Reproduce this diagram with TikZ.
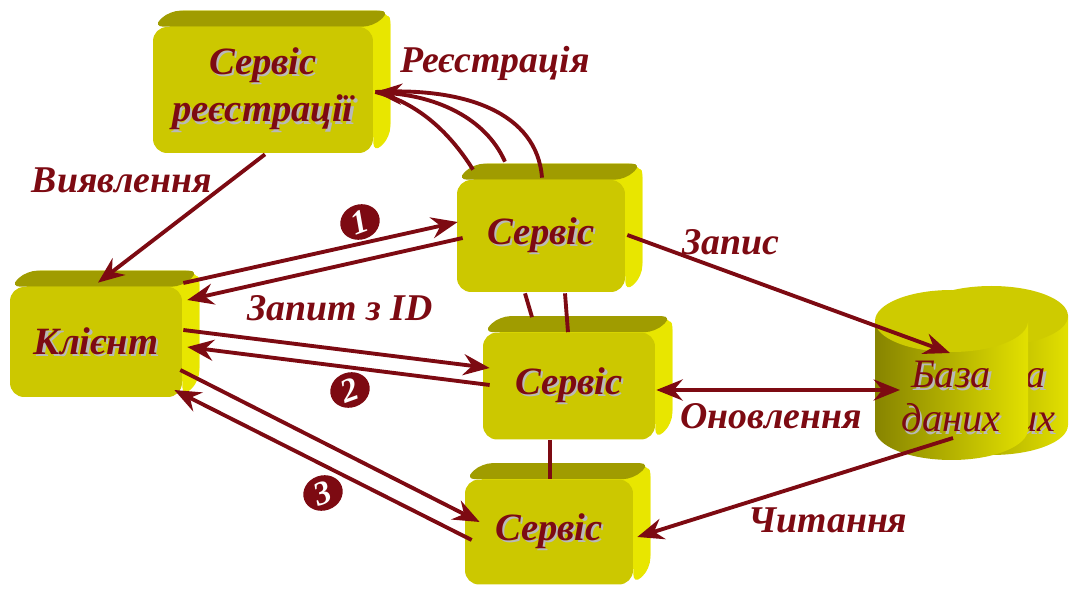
\documentclass[tikz,border=0pt]{standalone}
\usepackage{fontspec}
\setmainfont{Liberation Serif}
\usepackage{xcolor}
\usepackage{tikz}
\usetikzlibrary{shapes.geometric, arrows.meta, calc, backgrounds}

\definecolor{txtred}{RGB}{125,10,18}
\definecolor{facecol}{RGB}{204,200,0}
\definecolor{topcol}{RGB}{160,156,0}
\definecolor{sidecol}{RGB}{232,230,0}
\definecolor{cylL}{RGB}{135,132,0}
\definecolor{cylM}{RGB}{196,194,0}
\definecolor{cylR}{RGB}{226,224,0}
\definecolor{cylT}{RGB}{206,203,0}

\newcommand\boxfont{\fontsize{22}{27}\selectfont\bfseries\itshape}
\newcommand\lblfont{\fontsize{21.5}{24}\selectfont\bfseries\itshape}
\newcommand\numfont{\fontsize{19}{20}\selectfont\bfseries\itshape}
\newcommand\dbfont{\fontsize{23}{25}\selectfont\itshape}
\newcommand\txtshadow[1]{\makebox[0pt][l]{\kern1.3pt\raisebox{-1.3pt}{\color{gray!55}#1}}#1}

\begin{document}
\begin{tikzpicture}[x=0.02cm, y=-0.02cm]
    \tikzstyle{cube} = [rectangle, rounded corners=8pt, fill=facecol, text=txtred, font=\boxfont, inner sep=0pt, align=center]
    \tikzstyle{lbl} = [text=txtred, font=\lblfont]
    \tikzstyle{num} = [ellipse, fill=txtred, text=white, minimum width=0.8cm, minimum height=0.7cm, inner sep=0pt, font=\numfont]
    \tikzstyle{link} = [draw=txtred, line width=2.2pt]
    \tikzstyle{flow} = [link, -{Stealth[length=15pt,width=12pt,inset=5pt]}]
    \tikzstyle{flows} = [link, {Stealth[length=15pt,width=12pt,inset=5pt]}-{Stealth[length=15pt,width=12pt,inset=5pt]}]

    \useasboundingbox (0,0) rectangle (1073,591);

    % Components
    \node (reg) [cube, minimum width=4.4cm, minimum height=2.52cm] at (263,90) {\txtshadow{Сервіс}\\\txtshadow{реєстрації}};
    \node (srvA) [cube, minimum width=3.36cm, minimum height=2.24cm] at (541,236) {\txtshadow{Сервіс}};
    \node (srvB) [cube, minimum width=3.44cm, minimum height=2.14cm] at (569,386) {\txtshadow{Сервіс}};
    \node (srvC) [cube, minimum width=3.36cm, minimum height=2.1cm] at (549,532) {\txtshadow{Сервіс}};
    \node (cli) [cube, minimum width=3.44cm, minimum height=2.2cm] at (96,342) {\txtshadow{Клієнт}};

    % 3D sides
    \begin{scope}[on background layer]
        \foreach \b in {reg,srvA,srvB,srvC,cli} {
            \fill[sidecol, rounded corners=8pt] ($(\b.south west)+(17,-16)$) rectangle ($(\b.north east)+(17,-16)$);
            \fill[sidecol, rounded corners=6pt] (\b.north east) -- ($(\b.north east)+(17,-16)$) -- ($(\b.south east)+(17,-16)$) -- (\b.south east) -- cycle;
            \fill[topcol, rounded corners=6pt] (\b.north west) -- ($(\b.north west)+(17,-16)$) -- ($(\b.north east)+(17,-16)$) -- (\b.north east) -- cycle;
        }
    \end{scope}

    % Storage
    \shade[left color=cylL, middle color=cylM, right color=cylR] (991.5,425) ellipse (76.5 and 30);
    \shade[left color=cylL, middle color=cylM, right color=cylR] (915,316) rectangle (1068,425);
    \fill[cylT] (991.5,316) ellipse (76.5 and 30);
    \node (dbback) [text=txtred, font=\dbfont, align=center] at (1006,398) {\txtshadow{База}\\\txtshadow{даних}};
    \shade[left color=cylL, middle color=cylM, right color=cylR] (951.5,429) ellipse (76.5 and 31);
    \shade[left color=cylL, middle color=cylM, right color=cylR] (875,321) rectangle (1028,429);
    \fill[cylT] (951.5,321) ellipse (76.5 and 31);
    \node (db) [text=txtred, font=\dbfont, align=center] at (951,398) {\txtshadow{База}\\\txtshadow{даних}};

    % Labels
    \node (lreg) [lbl] at (495,63) {Реєстрація};
    \node (ldisc) [lbl] at (122,180) {Виявлення};
    \node (lreq) [lbl] at (340,308) {Запит з ID};
    \node (lwrite) [lbl] at (731,242) {Запис};
    \node (lupd) [lbl] at (771,416) {Оновлення};
    \node (lread) [lbl] at (828,520) {Читання};
    \node (n1) [num, rotate=20] at (360,222) {1};
    \node (n2) [num, rotate=20] at (350,390) {2};
    \node (n3) [num, rotate=20] at (323,493) {3};

    % Connections
    \draw [flow] ($(reg.south)+(2,1)$) -- ($(cli.north)+(2,-4)$);
    \draw [link] ($(srvA.north)+(-68,-10)$) .. controls +(-25,-40) and +(40,10) .. ($(reg.east)+(2,2)$);
    \draw [flow] ($(srvA.north)+(-36,-18)$) .. controls +(-20,-45) and +(60,5) .. ($(reg.east)+(2,2)$);
    \draw [link] ($(srvA.north)+(1,-2)$) .. controls +(-5,-65) and +(90,-5) .. ($(reg.east)+(2,2)$);

    \draw [flow] ($(cli.east)+(1,-59)$) -- ($(srvA.west)+(1,-14)$);
    \draw [flow] ($(srvA.west)+(6,2)$) -- ($(cli.east)+(5,-42)$);
    \draw [flow] ($(cli.east)+(1,-12)$) -- ($(srvB.west)+(7,-18)$);
    \draw [flow] ($(srvB.west)+(7,-1)$) -- ($(cli.east)+(5,5)$);
    \draw [flow] ($(cli.east)+(-2,28)$) -- ($(srvC.west)+(15,-10)$);
    \draw [flow] ($(srvC.west)+(7,8)$) -- ($(cli.east)+(-8,48)$);

    \draw [link] ($(srvA.south)+(-16,1)$) -- ($(srvB.north)+(-37,-15)$);
    \draw [link] ($(srvA.south)+(24,1)$) -- ($(srvB.north)+(-1,0)$);
    \draw [link] ($(srvB.south)+(-19,0)$) -- ($(srvC.north)+(1,0)$);

    \draw [flow] ($(srvA.east)+(2,-1)$) -- ($(db.center)+(-1,-45)$);
    \draw [flows] ($(srvB.east)+(1,4)$) -- ($(db.center)+(-51,-8)$);
    \draw [flow] ($(db.center)+(2,40)$) -- ($(srvC.east)+(4,5)$);
\end{tikzpicture}
\end{document}
